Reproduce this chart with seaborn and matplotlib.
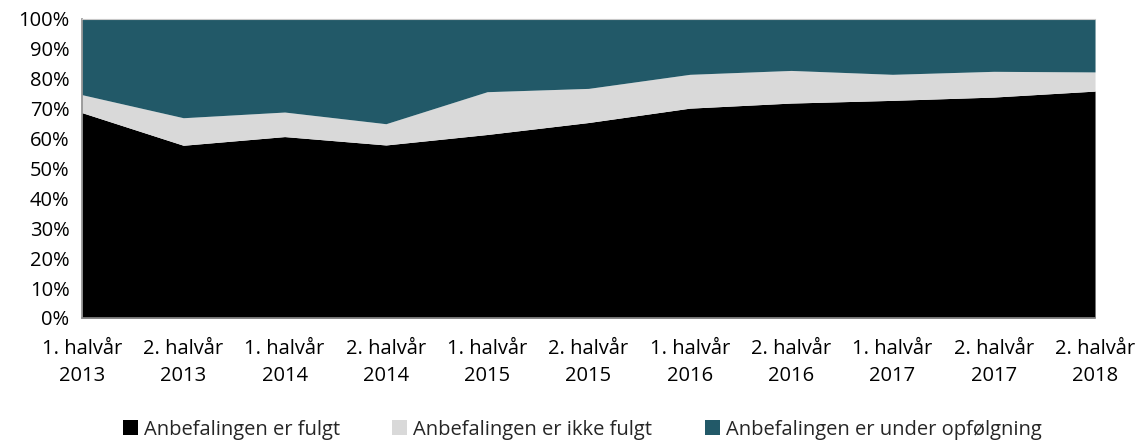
import matplotlib
matplotlib.use('Agg')
import matplotlib.pyplot as plt
import matplotlib.ticker as mtick
from matplotlib.patches import Patch
import seaborn as sns

# 데이터
perioder = ['1. halvår\n2013', '2. halvår\n2013', '1. halvår\n2014', '2. halvår\n2014',
            '1. halvår\n2015', '2. halvår\n2015', '1. halvår\n2016', '2. halvår\n2016',
            '1. halvår\n2017', '2. halvår\n2017', '2. halvår\n2018']
fulgt = [68.6, 57.7, 60.6, 57.8, 61.3, 65.3, 70.1, 71.8, 72.7, 73.8, 75.8]
ikke_fulgt = [6.0, 9.2, 8.2, 7.1, 14.3, 11.4, 11.3, 10.9, 8.7, 8.6, 6.4]
opfoelgning = [100 - a - b for a, b in zip(fulgt, ikke_fulgt)]

labels = ['Anbefalingen er fulgt', 'Anbefalingen er ikke fulgt', 'Anbefalingen er under opfølgning']
colors = ['#000000', '#d9d9d9', '#225968']

sns.set_theme(style='white')
plt.rcParams['font.family'] = ['Open Sans', 'DejaVu Sans']

fig = plt.figure(figsize=(11.39, 4.45), dpi=100)
ax = fig.add_axes([0.072, 0.2854, 0.8894, 0.6727])

x = list(range(len(perioder)))
ax.stackplot(x, fulgt, ikke_fulgt, opfoelgning, colors=colors, linewidth=0)

ax.set_xlim(0, len(perioder) - 1)
ax.set_ylim(0, 100)
ax.set_yticks(range(0, 101, 10))
ax.yaxis.set_major_formatter(mtick.PercentFormatter(decimals=0))
ax.set_xticks(x)
ax.set_xticklabels(perioder, linespacing=1.45)

for s in ['left', 'bottom']:
    ax.spines[s].set_color('#8c8c8c')
    ax.spines[s].set_linewidth(1.2)
ax.spines['right'].set_visible(False)
ax.spines['top'].set_color('#c8c8c8')
ax.spines['top'].set_linewidth(0.8)

ax.tick_params(axis='both', which='major', direction='out', length=6, width=1.2,
               color='#8c8c8c', labelsize=14.5, labelcolor='#000000')
ax.tick_params(axis='x', pad=9)
ax.tick_params(axis='y', pad=3)

handles = [Patch(facecolor=c, edgecolor='none') for c in colors]
fig.legend(handles, labels, loc='center', bbox_to_anchor=(0.511, 0.034), ncol=3,
           frameon=False, fontsize=14.5, handlelength=0.75, handleheight=0.75,
           handletextpad=0.3, columnspacing=2.6)

fig.savefig('out.png', dpi=100)
